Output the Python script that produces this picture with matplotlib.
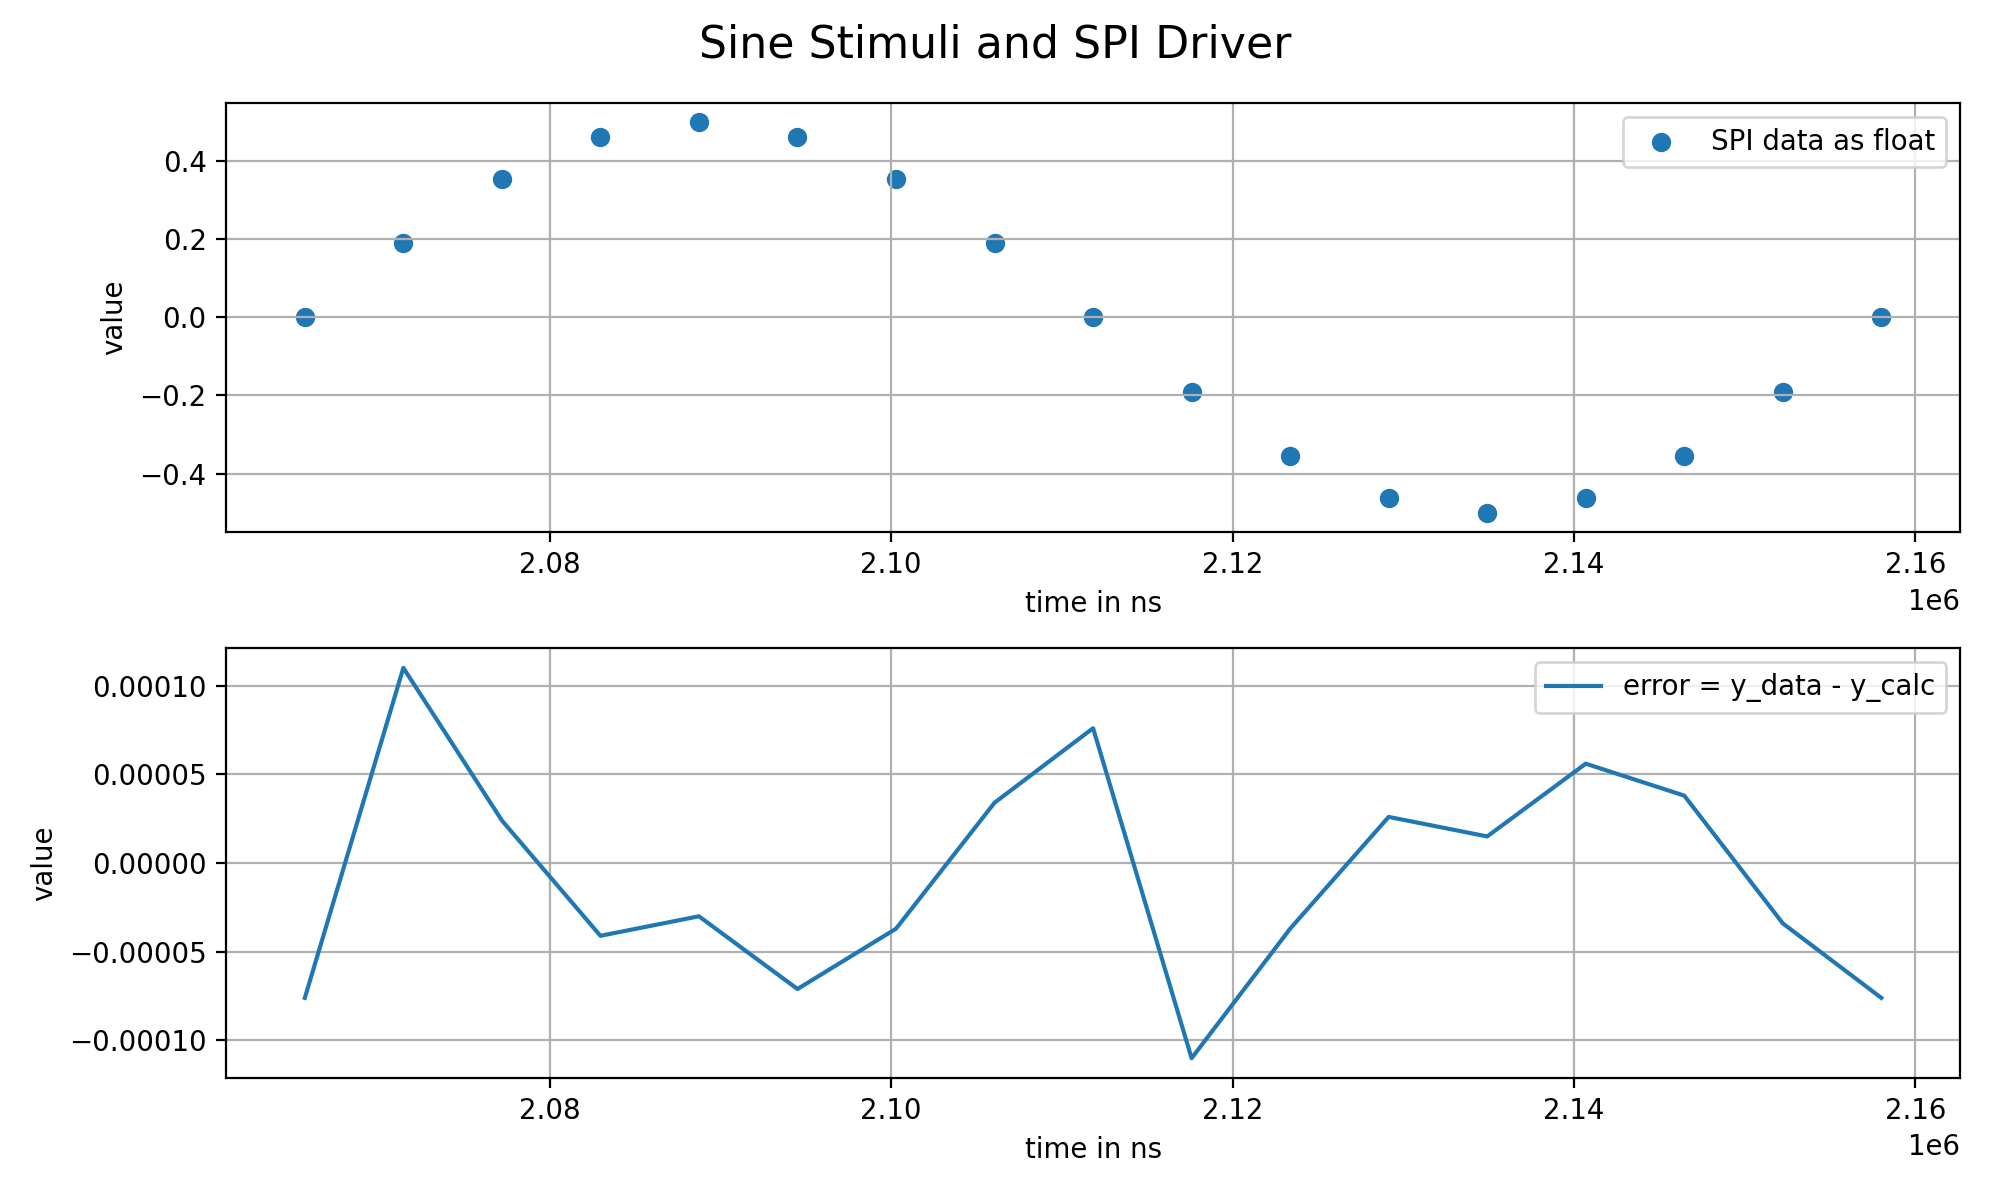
import matplotlib
matplotlib.use("Agg")
import matplotlib.pyplot as plt

time_ns = [2065650 + 5772 * i for i in range(17)]
spi_values = [0.0, 0.191, 0.354, 0.462, 0.5, 0.462, 0.354, 0.191, 0.0,
              -0.191, -0.354, -0.462, -0.5, -0.462, -0.354, -0.191, 0.0]
error_values = [-7.6e-5, 11.0e-5, 2.4e-5, -4.1e-5, -3.0e-5, -7.1e-5, -3.7e-5, 3.4e-5, 7.6e-5,
                -11.0e-5, -3.7e-5, 2.6e-5, 1.5e-5, 5.6e-5, 3.8e-5, -3.4e-5, -7.6e-5]

fig, (ax1, ax2) = plt.subplots(2, 1, figsize=(10, 6), dpi=199)
fig.suptitle("Sine Stimuli and SPI Driver", fontsize=16)

ax1.scatter(time_ns, spi_values, label="SPI data as float")
ax1.set_xlabel("time in ns")
ax1.set_ylabel("value")
ax1.grid(True)
ax1.legend(loc="upper right")

ax2.plot(time_ns, error_values, label="error = y_data - y_calc")
ax2.set_xlabel("time in ns")
ax2.set_ylabel("value")
ax2.grid(True)
ax2.legend(loc="upper right")

fig.tight_layout()
fig.savefig("out.png")
